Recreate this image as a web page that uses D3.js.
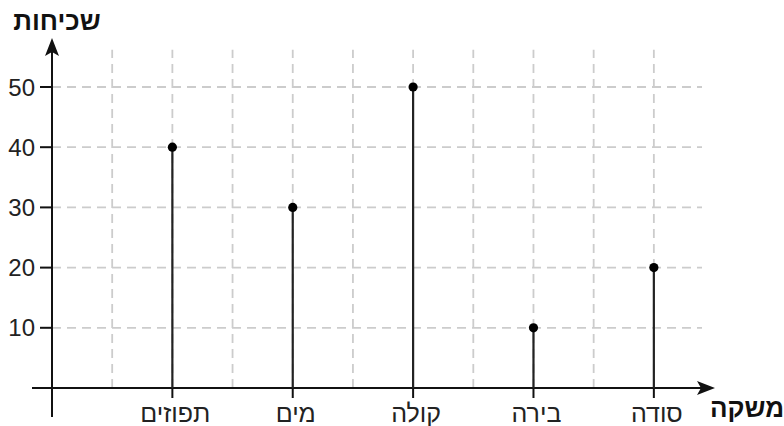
<!DOCTYPE html>
<html><head><meta charset="utf-8">
<script src="https://cdn.jsdelivr.net/npm/d3@7"></script>
<style>
html,body{margin:0;padding:0;background:#fff;}
svg{display:block;font-family:"Liberation Sans",Arial,sans-serif;}
</style></head>
<body>
<svg id="chart" width="784" height="426"></svg>
<script>
const categories = ["תפוזים","מים","קולה","בירה","סודה"];
const values = [40, 30, 50, 10, 20];
const yTicks = [10, 20, 30, 40, 50];
const yTitle = "שכיחות";
const xTitle = "משקה";

const svg = d3.select("#chart");
// grid units: each category is 2 grid columns apart
const x = d3.scaleLinear().domain([0, 10.8]).range([52, 702]);
const y = d3.scaleLinear().domain([0, 50]).range([388, 87]);
const catX = i => x(2 * (i + 1));

// grid
const grid = svg.append("g").attr("stroke", "#cccccc").attr("stroke-width", 1.8).attr("stroke-dasharray", "9,6");
grid.selectAll("line.v").data(d3.range(1, 11)).join("line")
  .attr("x1", d => x(d)).attr("x2", d => x(d))
  .attr("y1", y(0)).attr("y2", y(56.2));
grid.selectAll("line.h").data(yTicks).join("line")
  .attr("x1", x(0)).attr("x2", x(10.8))
  .attr("y1", d => y(d)).attr("y2", d => y(d));

// axes
const ax = svg.append("g").attr("stroke", "#111").attr("stroke-width", 2);
ax.append("line").attr("x1", 32).attr("x2", 705).attr("y1", y(0)).attr("y2", y(0));
ax.append("line").attr("x1", x(0)).attr("x2", x(0)).attr("y1", 417).attr("y2", 48);
svg.append("path").attr("fill", "#111")
  .attr("d", `M715,${y(0)} L697,${y(0)-7} L701,${y(0)} L697,${y(0)+7} Z`);
svg.append("path").attr("fill", "#111")
  .attr("d", `M${x(0)},38 L${x(0)-7},56 L${x(0)},52 L${x(0)+7},56 Z`);

// y ticks
ax.selectAll("line.yt").data(yTicks).join("line")
  .attr("x1", x(0) - 12).attr("x2", x(0))
  .attr("y1", d => y(d)).attr("y2", d => y(d));
svg.selectAll("text.yl").data(yTicks).join("text")
  .attr("x", 35).attr("y", d => y(d) + 8.5)
  .attr("text-anchor", "end").attr("font-size", 24).attr("fill", "#222")
  .text(d => d);

// x ticks
ax.selectAll("line.xt").data(categories).join("line")
  .attr("x1", (d, i) => catX(i)).attr("x2", (d, i) => catX(i))
  .attr("y1", y(0)).attr("y2", y(0) + 10);
svg.selectAll("text.xl").data(categories).join("text")
  .attr("x", (d, i) => catX(i) + 3).attr("y", 422)
  .attr("text-anchor", "middle").attr("font-size", 25).attr("fill", "#222")
  .text(d => d);

// stems
svg.selectAll("line.stem").data(values).join("line")
  .attr("stroke", "#222").attr("stroke-width", 2.2)
  .attr("x1", (d, i) => catX(i)).attr("x2", (d, i) => catX(i))
  .attr("y1", y(0)).attr("y2", d => y(d));
svg.selectAll("circle.dot").data(values).join("circle")
  .attr("fill", "#000").attr("r", 4.6)
  .attr("cx", (d, i) => catX(i)).attr("cy", d => y(d));

// titles
svg.append("text").attr("x", 57).attr("y", 30).attr("text-anchor", "middle")
  .attr("font-size", 26).attr("font-weight", "bold").attr("fill", "#111").text(yTitle);
svg.append("text").attr("x", 747).attr("y", 417).attr("text-anchor", "middle")
  .attr("font-size", 26).attr("font-weight", "bold").attr("fill", "#111").text(xTitle);
</script>
</body></html>
